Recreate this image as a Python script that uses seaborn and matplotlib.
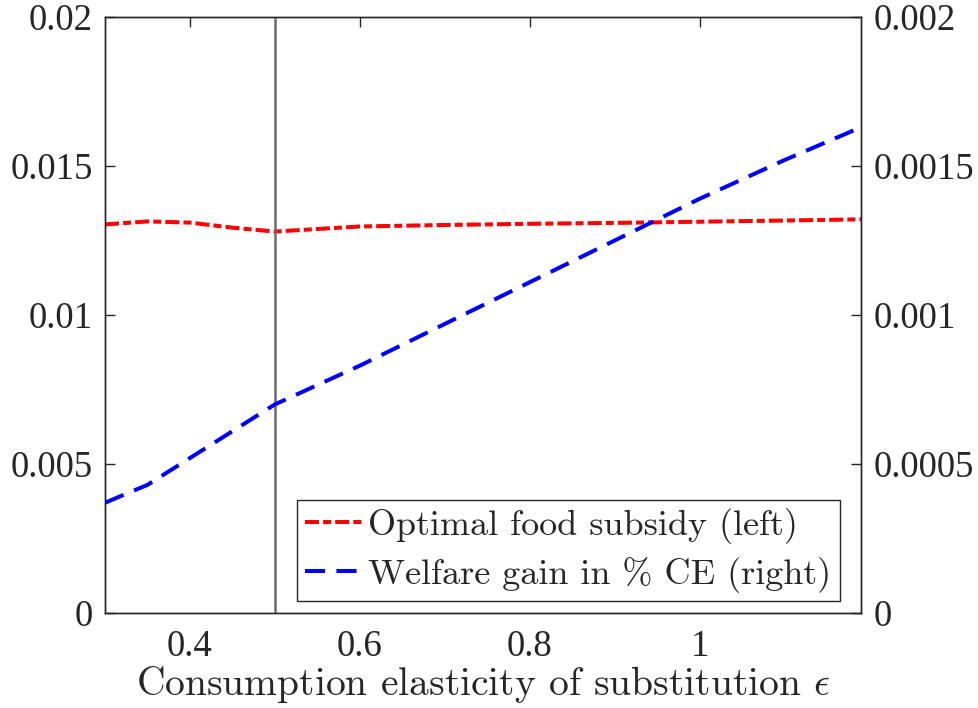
import matplotlib
matplotlib.use('Agg')
import matplotlib.pyplot as plt
import seaborn as sns
from matplotlib.ticker import FuncFormatter

# data
eps = [0.3, 0.35, 0.4, 0.45, 0.5, 0.6, 0.7, 0.8, 0.9, 1.0, 1.1, 1.19]
subsidy = [0.01304, 0.01314, 0.0131, 0.01293, 0.0128, 0.01297, 0.01302,
           0.01306, 0.01309, 0.01313, 0.01317, 0.01321]
welfare = [0.00037, 0.00043, 0.00052, 0.00061, 0.0007, 0.00083, 0.00097,
           0.00111, 0.00125, 0.00139, 0.00152, 0.00163]
left_ticks = [0, 0.005, 0.01, 0.015, 0.02]
right_ticks = [0, 0.0005, 0.001, 0.0015, 0.002]
x_ticks = [0.4, 0.6, 0.8, 1.0]
labels = ['Optimal food subsidy (left)', 'Welfare gain in % CE (right)']

sns.set_style('white')
plt.rcParams['font.family'] = ['Liberation Serif', 'DejaVu Serif']
plt.rcParams['mathtext.fontset'] = 'cm'

fig = plt.figure(figsize=(9.79, 7.08), dpi=100)
ax = fig.add_axes([0.1073, 0.1342, 0.7722, 0.8418])
ax2 = ax.twinx()

fmt = FuncFormatter(lambda v, p: '%g' % v)

sns.lineplot(x=eps, y=subsidy, ax=ax, color='red', linewidth=2.9)
ax.lines[-1].set_dashes((3.5, 1.0, 2.0, 1.0))
ax.axvline(0.5, color='#6a6a6a', linewidth=1.8, zorder=5)
sns.lineplot(x=eps, y=welfare, ax=ax2, color='blue', linewidth=2.9)
ax2.lines[-1].set_dashes((5, 2.8))

ax.set_xlim(0.3, 1.19)
ax.set_ylim(0, 0.02)
ax2.set_ylim(0, 0.002)
ax.set_xticks(x_ticks)
ax.set_yticks(left_ticks)
ax2.set_yticks(right_ticks)
ax.xaxis.set_major_formatter(fmt)
ax.yaxis.set_major_formatter(fmt)
ax2.yaxis.set_major_formatter(fmt)

for a in (ax, ax2):
    for s in a.spines.values():
        s.set_color('#262626')
        s.set_linewidth(1.0)
ax.tick_params(axis='both', direction='in', length=7, width=1, labelsize=26.5,
               top=True, color='#262626', pad=9)
ax.tick_params(axis='x', pad=12)
ax.tick_params(axis='y', right=False)
ax2.tick_params(axis='y', direction='in', length=7, width=1, labelsize=26.5,
                color='#262626', pad=9)

ax.set_xlabel(r'Consumption elasticity of substitution $\epsilon$',
              fontsize=28.5, family='cmr10', labelpad=0)

handles = [ax.lines[0], ax2.lines[0]]
leg = ax2.legend(handles, labels, loc='lower right',
                 bbox_to_anchor=(0.972, 0.02), borderaxespad=0,
                 prop={'family': 'cmr10', 'size': 26}, frameon=True,
                 fancybox=False, edgecolor='#262626', framealpha=1,
                 handlelength=1.6, handletextpad=0.15, borderpad=0.23,
                 labelspacing=0.35)
leg.get_frame().set_linewidth(1.0)

fig.savefig('out.png', dpi=100)
